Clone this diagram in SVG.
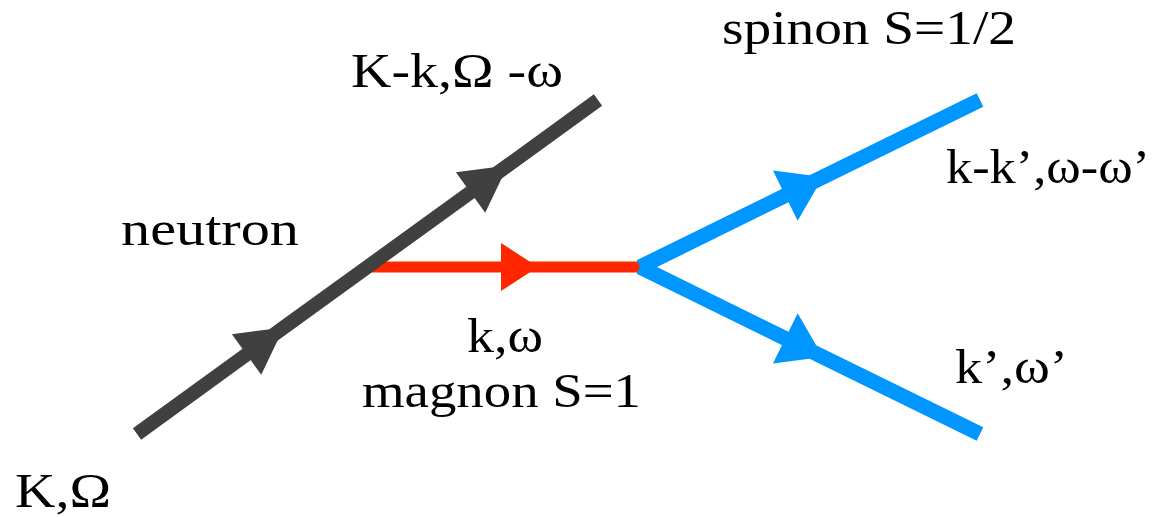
<svg xmlns="http://www.w3.org/2000/svg" width="1154" height="517" viewBox="0 0 1154 517">
  <style>
    .lbl { font-size: 48px; fill: #000000; }
    .cn { fill: none; stroke-linecap: butt; stroke-linejoin: miter; }
    .neutron { stroke: #404040; stroke-width: 14; marker-mid: url(#ahBlack); }
    .magnon { stroke: #ff2600; stroke-width: 11; marker-mid: url(#ahRed); }
    .spinon { stroke: #0096ff; stroke-width: 15; marker-mid: url(#ahBlue); }
  </style>
  <defs>
    <marker id="ahBlack" markerUnits="userSpaceOnUse" orient="auto" refX="0" refY="0" markerWidth="60" markerHeight="60" viewBox="-50 -30 60 60" overflow="visible">
      <path d="M1,0 L-45,-25 L-45,25 Z" fill="#404040"/>
    </marker>
    <marker id="ahRed" markerUnits="userSpaceOnUse" orient="auto" refX="0" refY="0" markerWidth="60" markerHeight="60" viewBox="-50 -30 60 60" overflow="visible">
      <path d="M0,0 L-37,-24 L-37,24 Z" fill="#ff2600"/>
    </marker>
    <marker id="ahBlue" markerUnits="userSpaceOnUse" orient="auto" refX="0" refY="0" markerWidth="60" markerHeight="60" viewBox="-50 -30 60 60" overflow="visible">
      <path d="M0,0 L-42,-28 L-42,28 Z" fill="#0096ff"/>
    </marker>
  </defs>

  <g id="connectors">
    <path id="magnon-line" class="cn magnon" d="M370,267 L538,267 L640,267"/>
    <path id="neutron-line" class="cn neutron" d="M137,434 L283,328 L507,166 L598,100"/>
    <path id="spinon-upper" class="cn spinon" d="M640,267 L823,177 L980,100"/>
    <path id="spinon-lower" class="cn spinon" d="M640,267 L823,357 L980,434"/>
  </g>

  <g id="labels" font-family="Liberation Serif, Times New Roman, serif">
    <g id="label-in">
      <text class="lbl" x="15" y="507" font-size="47" textLength="96" lengthAdjust="spacingAndGlyphs">K,Ω</text>
    </g>
    <g id="label-neutron">
      <text class="lbl" x="121" y="245" textLength="178" lengthAdjust="spacingAndGlyphs">neutron</text>
    </g>
    <g id="label-out">
      <text class="lbl" x="351" y="87" textLength="212" lengthAdjust="spacingAndGlyphs">K-k,Ω -ω</text>
    </g>
    <g id="label-spinon">
      <text class="lbl" x="722" y="44" textLength="294" lengthAdjust="spacingAndGlyphs">spinon S=1/2</text>
    </g>
    <g id="label-magnon">
      <text class="lbl" x="467" y="352" textLength="76" lengthAdjust="spacingAndGlyphs">k,ω</text>
      <text class="lbl" x="362" y="407" textLength="279" lengthAdjust="spacingAndGlyphs">magnon S=1</text>
    </g>
    <g id="label-spinon-upper">
      <text class="lbl" x="946" y="183" textLength="204" lengthAdjust="spacingAndGlyphs">k-k’,ω-ω’</text>
    </g>
    <g id="label-spinon-lower">
      <text class="lbl" x="955" y="383" textLength="113" lengthAdjust="spacingAndGlyphs">k’,ω’</text>
    </g>
  </g>
</svg>
